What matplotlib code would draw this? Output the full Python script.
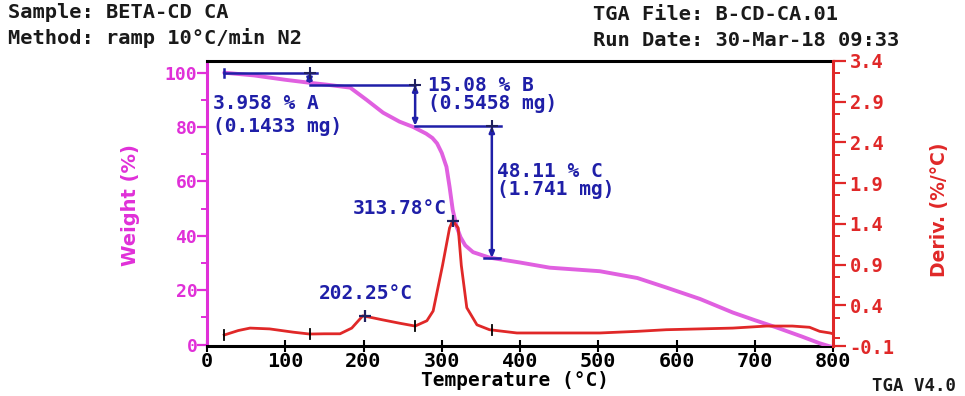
import matplotlib
matplotlib.use("Agg")
import matplotlib.pyplot as plt
from matplotlib.ticker import MultipleLocator

# ---------------- data ----------------
temp_w = [22, 60, 100, 131, 153, 183, 204, 225, 246, 263, 280, 288, 294, 300, 306, 310, 314,
          319, 324, 330, 340, 361, 374, 400, 438, 502, 550, 587, 630, 672, 700, 728, 760, 783, 800]
weight = [100, 99.0, 97.4, 96.3, 95.6, 94.5, 90.0, 85.3, 82.0, 80.1, 77.6, 76.0, 74.0, 70.5, 65.4, 58.0, 49.6,
          43.4, 39.5, 36.5, 34.0, 32.0, 31.4, 30.2, 28.3, 27.0, 24.5, 21.0, 16.8, 11.8, 9.0, 6.3, 3.0, 0.5, -1.0]

temp_d = [22, 40, 55, 80, 110, 131, 150, 170, 185, 199, 210, 225, 246, 266, 281, 289, 301, 310,
          314, 321, 325, 332, 345, 361, 396, 438, 502, 550, 587, 630, 672, 715, 748, 770, 783, 796, 800]
deriv = [0.035, 0.09, 0.12, 0.11, 0.07, 0.047, 0.05, 0.05, 0.12, 0.27, 0.25, 0.22, 0.18, 0.145, 0.21,
         0.33, 0.89, 1.35, 1.44, 1.35, 0.89, 0.37, 0.16, 0.10, 0.06, 0.06, 0.06, 0.08, 0.10, 0.11,
         0.12, 0.145, 0.145, 0.13, 0.08, 0.06, 0.05]

# step analysis (temperature limits and weight levels)
step_t = [22, 131, 266, 364]
step_w = [100.0, 95.6, 80.4, 31.8]
step_labels = [["3.958 % A", "(0.1433 mg)"], ["15.08 % B", "(0.5458 mg)"], ["48.11 % C", "(1.741 mg)"]]
peak_t = [202.25, 313.78]
peak_d = [0.27, 1.44]
peak_labels = ["202.25°C", "313.78°C"]

x_ticks = [0, 100, 200, 300, 400, 500, 600, 700, 800]
w_ticks = [0, 20, 40, 60, 80, 100]
d_ticks = [-0.1, 0.4, 0.9, 1.4, 1.9, 2.4, 2.9, 3.4]

# ---------------- style ----------------
MAG = "#e030d8"
MAGL = "#e060e0"
RED = "#e02828"
BLUE = "#1f1fa8"
MONO = "DejaVu Sans Mono"

fig = plt.figure(figsize=(9.65, 3.96), dpi=100)
ax = fig.add_axes([207 / 965, 1 - 346 / 396, (833 - 207) / 965, (346 - 61) / 396])
ax2 = ax.twinx()

ax.set_xlim(0, 800)
ax.set_ylim(-0.5, 104.3)
ax2.set_ylim(-0.1, 3.4)

# curves
ax.plot(temp_w, weight, color=MAGL, lw=2.8, zorder=3, solid_capstyle="round", solid_joinstyle="round")
ax2.plot(temp_d, deriv, color=RED, lw=2.0, zorder=3, solid_joinstyle="round")

# derivative tick marks at step limits
for t in step_t:
    i = min(range(len(temp_d)), key=lambda k: abs(temp_d[k] - t))
    ax2.plot([t, t], [deriv[i] - 0.06, deriv[i] + 0.06], color="black", lw=1.3, zorder=4)
for t, d in zip(peak_t, peak_d):
    ax2.plot([t], [d], marker="+", color="#202060", ms=9, mew=1.6, zorder=5)

# step annotation lines (weight axis)
lw_b = 1.8
ax.plot([step_t[0], step_t[1] + 10], [step_w[0], step_w[0]], color=BLUE, lw=lw_b, zorder=4)
ax.plot([step_t[0], step_t[0]], [step_w[0] - 1.5, step_w[0] + 1.5], color=BLUE, lw=lw_b, zorder=4)
ax.plot([step_t[1], step_t[2]], [step_w[1], step_w[1]], color=BLUE, lw=lw_b, zorder=4)
ax.plot([step_t[2], step_t[3] + 12], [step_w[2], step_w[2]], color=BLUE, lw=lw_b, zorder=4)
ax.plot([step_t[3] - 10, step_t[3] + 10], [step_w[3], step_w[3]], color=BLUE, lw=lw_b, zorder=4)
arrow = dict(arrowstyle="<|-|>,head_length=0.35,head_width=0.15", color=BLUE, lw=lw_b,
             shrinkA=0, shrinkB=0)
for k in range(3):
    ax.annotate("", xy=(step_t[k + 1], step_w[k + 1]), xytext=(step_t[k + 1], step_w[k]),
                arrowprops=arrow, zorder=4)
for t, w in zip(step_t[1:], step_w):
    ax.plot([t], [w], marker="+", color="#202060", ms=8, mew=1.5, zorder=5)

tkw = dict(color=BLUE, fontfamily=MONO, fontweight="bold", fontsize=14, zorder=6)
ax.text(8, 88.5, step_labels[0][0], ha="left", va="center", **tkw)
ax.text(8, 80.3, step_labels[0][1], ha="left", va="center", **tkw)
ax.text(283, 95.3, step_labels[1][0], ha="left", va="center", **tkw)
ax.text(283, 88.8, step_labels[1][1], ha="left", va="center", **tkw)
ax.text(371, 63.7, step_labels[2][0], ha="left", va="center", **tkw)
ax.text(371, 57.0, step_labels[2][1], ha="left", va="center", **tkw)
ax2.text(203, 0.54, peak_labels[0], ha="center", va="center", **tkw)
ax2.text(307, 1.59, peak_labels[1], ha="right", va="center", **tkw)

# axes / spines
for s in ("top", "bottom"):
    ax.spines[s].set_color("black")
    ax.spines[s].set_linewidth(2.2)
ax.spines["left"].set_color(MAG)
ax.spines["left"].set_linewidth(2.2)
ax2.spines["right"].set_color(RED)
ax2.spines["right"].set_linewidth(2.2)
ax2.spines["left"].set_visible(False)
ax2.spines["top"].set_visible(False)
ax2.spines["bottom"].set_visible(False)
ax.spines["right"].set_visible(False)

ax.set_xticks(x_ticks)
ax.set_xticklabels([str(v) for v in x_ticks], fontfamily=MONO, fontweight="bold", fontsize=14.5)
ax.tick_params(axis="x", direction="inout", length=8, width=1.5, color="black", pad=0)

ax.set_yticks(w_ticks)
ax.set_yticklabels([str(v) for v in w_ticks], fontfamily=MONO, fontweight="bold", fontsize=13,
                   color=MAG)
ax.yaxis.set_minor_locator(MultipleLocator(10))
ax.tick_params(axis="y", which="major", direction="out", length=7, width=1.6, color=MAG, pad=0)
ax.tick_params(axis="y", which="minor", direction="out", length=4, width=1.4, color=MAG)

ax2.set_yticks(d_ticks)
ax2.set_yticklabels([f"{v:.1f}" for v in d_ticks], fontfamily=MONO, fontweight="bold", fontsize=13.5,
                    color=RED)
ax2.yaxis.set_minor_locator(MultipleLocator(0.25))
ax2.tick_params(axis="y", which="major", direction="out", length=9, width=1.6, color=RED, pad=3)
ax2.tick_params(axis="y", which="minor", direction="out", length=5, width=1.4, color=RED)

# axis labels
fig.text(130 / 965, 1 - 205 / 396, "Weight (%)", rotation=90, ha="center", va="center",
         color=MAG, fontsize=14, fontweight="bold", fontfamily="DejaVu Sans")
fig.text(940 / 965, 1 - 210 / 396, "Deriv. (%/°C)", rotation=90, ha="center", va="center",
         color=RED, fontsize=13.5, fontweight="bold", fontfamily="DejaVu Sans")
fig.text(515 / 965, 1 - 381 / 396, "Temperature (°C)", ha="center", va="center",
         color="black", fontsize=14, fontweight="bold", fontfamily=MONO)

# header texts
hkw = dict(fontfamily=MONO, fontweight="bold", fontsize=14.7, color="#1a1a1a", va="center", ha="left")
fig.text(8 / 965, 1 - 13 / 396, "Sample: BETA-CD CA", **hkw)
fig.text(8 / 965, 1 - 38 / 396, "Method: ramp 10°C/min N2", **hkw)
fig.text(593 / 965, 1 - 15 / 396, "TGA File: B-CD-CA.01", **hkw)
fig.text(593 / 965, 1 - 40 / 396, "Run Date: 30-Mar-18 09:33", **hkw)
fig.text(872 / 965, 1 - 386 / 396, "TGA V4.0", fontfamily=MONO, fontweight="bold", fontsize=12.5,
         color="#1a1a1a", va="center", ha="left")

fig.savefig("out.png", dpi=100)
